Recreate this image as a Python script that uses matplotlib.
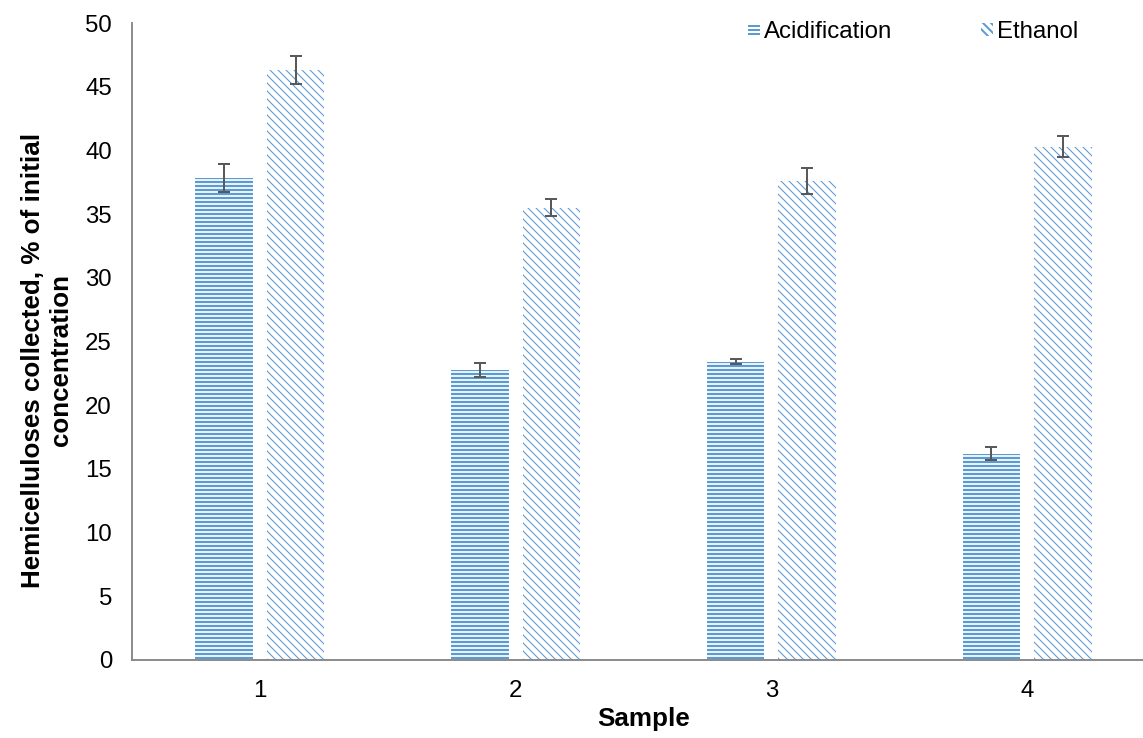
import numpy as np
import matplotlib
matplotlib.use("Agg")
import matplotlib.pyplot as plt

plt.rcParams['font.family'] = ['Liberation Sans', 'DejaVu Sans']
plt.rcParams['hatch.linewidth'] = 1.5

samples = ["1", "2", "3", "4"]
acid = [37.8, 22.8, 23.4, 16.2]
acid_err = [1.1, 0.55, 0.2, 0.5]
ethanol = [46.3, 35.5, 37.6, 40.3]
ethanol_err = [1.1, 0.65, 1.0, 0.8]

blue = "#5B9BD5"
x = np.arange(len(samples))
w = 0.225
off = 0.14

DPI = 96
fig = plt.figure(figsize=(1143 / DPI, 738 / DPI), dpi=DPI)
ax = fig.add_axes([132/1143, 78/738, 1023/1143, 637/738])

with plt.rc_context({'hatch.linewidth': 1.7}):
    b1 = ax.bar(x - off, acid, w, color="white", edgecolor=blue, hatch="----",
                linewidth=0, label="Acidification")
with plt.rc_context({'hatch.linewidth': 0.8}):
    b2 = ax.bar(x + off, ethanol, w, color="white", edgecolor=blue, hatch="\\\\\\\\",
                linewidth=0, label="Ethanol")
for b in b1:
    try:
        b.set_hatch_linewidth(1.7)
    except AttributeError:
        pass
for b in b2:
    try:
        b.set_hatch_linewidth(0.8)
    except AttributeError:
        pass

ax.errorbar(x - off, acid, yerr=acid_err, fmt="none", ecolor="#595959",
            elinewidth=1.5, capsize=4.8, capthick=1.5)
ax.errorbar(x + off, ethanol, yerr=ethanol_err, fmt="none", ecolor="#595959",
            elinewidth=1.5, capsize=4.8, capthick=1.5)

ax.set_xlim(-0.5, 3.5)
ax.set_ylim(0, 50)
ax.set_yticks(np.arange(0, 51, 5))
ax.set_xticks(x)
ax.set_xticklabels(samples)
ax.tick_params(axis="both", length=0, labelsize=18, pad=15)
for s in ["top", "right"]:
    ax.spines[s].set_visible(False)
for s in ["left", "bottom"]:
    ax.spines[s].set_color("#868686")
    ax.spines[s].set_linewidth(1.4)

ax.set_xlabel("Sample", fontsize=19.5, fontweight="bold", labelpad=4)
ax.set_ylabel("Hemicelluloses collected, % of initial\nconcentration",
              fontsize=19.5, fontweight="bold")
ax.yaxis.set_label_coords(-0.058, 0.471)

leg = fig.legend(handles=[b1, b2], loc="upper left", bbox_to_anchor=(748/1143, 1 - 21/738),
                 ncol=2, frameon=False, fontsize=18, handlelength=0.5, handleheight=0.45,
                 handletextpad=0.17, columnspacing=3.7, borderpad=0, borderaxespad=0)

fig.savefig("out.png", dpi=DPI)
